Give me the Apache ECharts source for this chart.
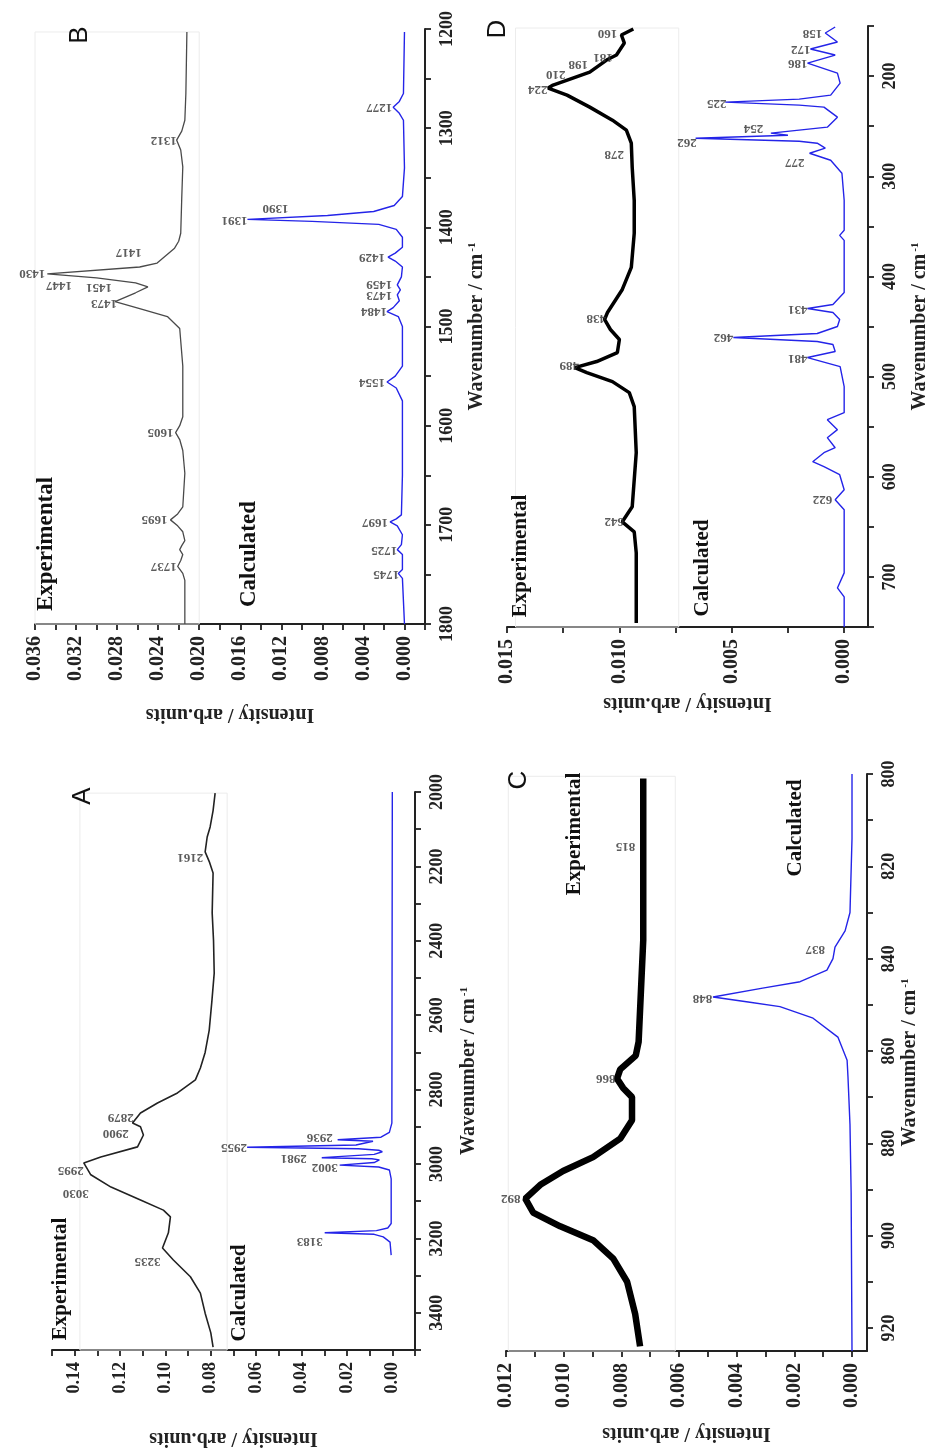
<!DOCTYPE html>
<html><head><meta charset="utf-8">
<script src="https://cdn.jsdelivr.net/npm/echarts@6/dist/echarts.min.js"></script>
<style>html,body{margin:0;padding:0;background:#fff}#c{width:931px;height:1452px}</style>
</head><body><div id="c"></div>
<script>
// ---------- DATA (wavenumber cm-1, intensity arb.units) ----------
// Panel B (1200-1800)
const B_EXP = [[1203,0.0212],[1265,0.0213],[1292,0.0214],[1303,0.0217],[1312,0.0222],[1322,0.0218],[1339,0.0216],[1370,0.0217],[1406,0.0218],[1414,0.0220],[1421,0.0224],[1436,0.0241],[1440,0.0258],[1447,0.0348],[1451,0.0300],[1456,0.0262],[1460,0.0250],[1466,0.0262],[1475,0.0282],[1482,0.0258],[1490,0.0231],[1502,0.0219],[1540,0.0216],[1591,0.0216],[1600,0.0219],[1607,0.0223],[1614,0.0219],[1625,0.0216],[1648,0.0214],[1682,0.0216],[1689,0.0221],[1695,0.0228],[1701,0.0221],[1707,0.0216],[1716,0.0214],[1721,0.0217],[1725,0.0219],[1730,0.0216],[1736,0.0218],[1742,0.0221],[1749,0.0216],[1756,0.0214],[1800,0.0214]];
const B_CALC = [[1203,0],[1265,0.0001],[1273,0.0005],[1279,0.0011],[1285,0.0005],[1292,0.0001],[1340,0.0000],[1369,0.0002],[1378,0.0010],[1384,0.0030],[1388,0.0075],[1392,0.0153],[1394,0.0090],[1397,0.0025],[1402,0.0008],[1410,0.0002],[1420,0.0002],[1426,0.0009],[1430,0.0016],[1434,0.0009],[1440,0.0002],[1450,0.0003],[1458,0.0007],[1463,0.0004],[1468,0.0007],[1474,0.0005],[1481,0.0011],[1485,0.0017],[1490,0.0006],[1500,0.0002],[1540,0.0002],[1550,0.0009],[1556,0.0017],[1562,0.0008],[1575,0.0002],[1650,0.0002],[1690,0.0003],[1694,0.0008],[1697,0.0014],[1701,0.0007],[1710,0.0002],[1720,0.0003],[1725,0.0007],[1730,0.0002],[1745,0.0002],[1749,0.0006],[1754,0.0002],[1800,0]];
const B_EXP_LABELS = [['1312',1312,0.0222],['1417',1425,0.0256],['1430',1446,0.0350],['1447',1459,0.0324],['1451',1461,0.0285],['1473',1477,0.0280],['1605',1607,0.0225],['1695',1694,0.0231],['1737',1742,0.0222]];
const B_CALC_LABELS = [['1277',1279,0.0012],['1390',1381,0.0113],['1391',1393,0.0153],['1429',1430,0.0019],['1459',1458,0.0012],['1473',1469,0.0012],['1484',1485,0.0017],['1554',1556,0.0019],['1697',1698,0.0016],['1725',1726,0.0007],['1745',1750,0.0005]];
const B_INT_MAJOR = [0,0.004,0.008,0.012,0.016,0.020,0.024,0.028,0.032,0.036];
const B_INT_MINOR = [-0.002,0.002,0.006,0.010,0.014,0.018,0.022,0.026,0.030,0.034];
const B_WN_MAJOR = [1200,1300,1400,1500,1600,1700,1800];
const B_WN_MINOR = [1250,1350,1450,1550,1650,1750];

// Panel A (2000-3500)
const A_EXP = [[2003,0.0781],[2050,0.0790],[2094,0.0803],[2121,0.0816],[2161,0.0825],[2190,0.0805],[2218,0.0790],[2325,0.0794],[2400,0.0788],[2487,0.0785],[2560,0.0795],[2640,0.0807],[2700,0.0825],[2742,0.0846],[2774,0.0868],[2809,0.0947],[2836,0.1035],[2863,0.1110],[2890,0.1145],[2900,0.1110],[2922,0.1097],[2954,0.1123],[2981,0.1285],[2997,0.1360],[3029,0.1329],[3062,0.1240],[3097,0.1110],[3124,0.1009],[3142,0.0978],[3185,0.0987],[3226,0.1013],[3258,0.0965],[3303,0.0890],[3347,0.0846],[3401,0.0825],[3454,0.0800],[3492,0.0790]];
const A_CALC = [[2000,0],[2890,0.0002],[2915,0.0013],[2928,0.0050],[2935,0.0241],[2939,0.0085],[2943,0.0079],[2949,0.0160],[2955,0.0640],[2959,0.0150],[2963,0.0060],[2967,0.0044],[2974,0.0080],[2983,0.0311],[2986,0.0090],[2989,0.0057],[2996,0.0080],[3003,0.0232],[3008,0.0060],[3016,0.0013],[3040,0.0005],[3160,0.0005],[3172,0.0020],[3179,0.0070],[3185,0.0298],[3189,0.0080],[3196,0.0040],[3210,0.0010],[3245,0.0005]];
const A_EXP_LABELS = [['2161',2175,0.0833],['2879',2874,0.114],['2900',2917,0.1162],['2995',3016,0.136],['3030',3078,0.1338],['3235',3263,0.1022]];
const A_CALC_LABELS = [['2936',2928,0.0263],['2955',2955,0.064],['2981',2984,0.0377],['3002',3008,0.0241],['3183',3207,0.0307]];
const A_INT_MAJOR = [0,0.02,0.04,0.06,0.08,0.10,0.12,0.14];
const A_INT_MINOR = [-0.01,0.01,0.03,0.05,0.07,0.09,0.11,0.13,0.15];
const A_WN_MAJOR = [2000,2200,2400,2600,2800,3000,3200,3400];
const A_WN_MINOR = [2100,2300,2500,2700,2900,3100,3300,3500];

// Panel D (150-750)
const D_EXP = [[153,0.00938],[159,0.00991],[167,0.00978],[179,0.01013],[184,0.01057],[196,0.01132],[202,0.01207],[209,0.01295],[212,0.01317],[219,0.01233],[231,0.01132],[244,0.01031],[254,0.00969],[267,0.00947],[291,0.00943],[324,0.00934],[357,0.00934],[391,0.00947],[413,0.00987],[436,0.01053],[443,0.01066],[453,0.01040],[463,0.01000],[476,0.01009],[485,0.01101],[491,0.01198],[496,0.01145],[505,0.01031],[516,0.00956],[530,0.00934],[576,0.00925],[630,0.00943],[645,0.00987],[655,0.00934],[676,0.00925],[746,0.00925]];
const D_CALC = [[151,0.0004],[157,0.00084],[166,0.0003],[173,0.0015],[179,0.0004],[187,0.00163],[197,0.0003],[207,0.00018],[219,0.0006],[223,0.0020],[226,0.00529],[229,0.0020],[231,0.0009],[241,0.0003],[251,0.00075],[257,0.00326],[259,0.0025],[262,0.00661],[265,0.0020],[267,0.0012],[272,0.00084],[277,0.00154],[284,0.0006],[297,0.0001],[324,0],[354,0],[359,0.0002],[364,0],[416,0],[428,0.0005],[432,0.00163],[436,0.0005],[443,0.0002],[450,0.0003],[457,0.0012],[461,0.00493],[465,0.0012],[468,0.0005],[475,0.0004],[481,0.00163],[490,0.00018],[510,0],[536,0],[543,0.00075],[553,0.0003],[561,0.00075],[571,0.0004],[576,0.0009],[585,0.0014],[590,0.0009],[598,0.0002],[613,0],[623,0.0004],[633,0],[696,0],[711,0.0003],[720,0],[750,0]];
const D_EXP_LABELS = [['160',157,0.0101],['181',181,0.0103],['198',188,0.0114],['210',198,0.0124],['224',213,0.0132],['278',278,0.0098],['438',442,0.0106],['489',489,0.0118],['642',645,0.0098]];
const D_CALC_LABELS = [['158',157,0.00097],['172',173,0.0015],['186',187,0.00163],['225',227,0.00524],['254',252,0.0036],['262',266,0.00656],['277',286,0.00176],['431',433,0.00163],['462',461,0.00493],['481',482,0.00163],['622',623,0.00053]];
const D_INT_MAJOR = [0,0.005,0.010,0.015];
const D_INT_MINOR = [0.0025,0.0075,0.0125];
const D_WN_MAJOR = [200,300,400,500,600,700];
const D_WN_MINOR = [150,250,350,450,550,650,750];

// Panel C (800-925)
const C_EXP = [[801,0.00724],[814,0.00724],[836,0.00724],[858,0.00740],[861,0.00750],[864,0.00804],[866,0.00815],[868,0.00794],[870,0.00763],[875,0.00763],[879,0.00804],[883,0.00898],[886,0.01002],[889,0.01081],[892,0.01133],[895,0.01106],[898,0.01012],[901,0.00898],[905,0.00828],[910,0.00780],[917,0.00752],[924,0.00735]];
const C_CALC = [[800,0],[814,0],[830,0.00007],[834,0.00024],[837.5,0.00059],[840,0.00066],[842.5,0.00087],[845,0.0018],[846.4,0.0031],[848.3,0.00482],[849.4,0.0036],[850.4,0.0025],[852.9,0.00135],[857,0.00049],[862,0.00017],[865.6,0.00014],[876,0.00007],[890.7,0.00003],[925,0]];
const C_EXP_LABELS = [['815',815.6,0.00752],['866',866,0.0082],['892',892,0.0115]];
const C_CALC_LABELS = [['837',838,0.00094],['848',848.5,0.00485]];
const C_INT_MAJOR = [0,0.002,0.004,0.006,0.008,0.010,0.012];
const C_INT_MINOR = [0.001,0.003,0.005,0.007,0.009,0.011];
const C_WN_MAJOR = [800,820,840,860,880,900,920];
const C_WN_MINOR = [810,830,850,870,890,910];

// ---------- LAYOUT / STYLE ----------
const SERIF = "'Liberation Serif','Times New Roman',serif";
const SANS = "'Liberation Sans',Arial,sans-serif";
const AX = '#222';
const BLUE = '#2424e8';
const NONE = 'rgba(0,0,0,0)';

const panels = [
  {letter:'B', grid:{left:35,top:29,width:390,height:595}, xMin:-0.002, xMax:0.036, yMin:1200, yMax:1800,
   xMajor:B_INT_MAJOR, xMinor:B_INT_MINOR, yMajor:B_WN_MAJOR, yMinor:B_WN_MINOR, dec:3,
   exp:B_EXP, calc:B_CALC, expLabels:B_EXP_LABELS, calcLabels:B_CALC_LABELS,
   expStyle:{color:'#4a4a4a', width:1.3}, frame:[[0.036,1203],[0.020,1800]],
   xNameGap:80, yNameGap:42, xFont:20, yFont:18,
   letterPos:[80,35], expPos:[46,544], calcPos:[249,554], textFont:23},
  {letter:'A', grid:{left:52,top:792,width:363,height:558}, xMin:-0.01, xMax:0.15, yMin:2000, yMax:3500,
   xMajor:A_INT_MAJOR, xMinor:A_INT_MINOR, yMajor:A_WN_MAJOR, yMinor:A_WN_MINOR, dec:2,
   exp:A_EXP, calc:A_CALC, expLabels:A_EXP_LABELS, calcLabels:A_CALC_LABELS,
   expStyle:{color:'#222', width:1.6}, frame:[[0.1377,2003],[0.0728,3500]],
   xNameGap:78, yNameGap:44, xFont:18, yFont:18,
   letterPos:[83,796], expPos:[61,1279], calcPos:[240,1293], textFont:21},
  {letter:'D', grid:{left:507,top:26,width:364,height:601}, xMin:-0.00106, xMax:0.015, yMin:150, yMax:750,
   xMajor:D_INT_MAJOR, xMinor:D_INT_MINOR, yMajor:D_WN_MAJOR, yMinor:D_WN_MINOR, dec:3,
   exp:D_EXP, calc:D_CALC, expLabels:D_EXP_LABELS, calcLabels:D_CALC_LABELS,
   expStyle:{color:'#000', width:3.5}, frame:[[0.01462,152],[0.00736,750]],
   xNameGap:66, yNameGap:42, xFont:20, yFont:18,
   letterPos:[498,29], expPos:[521,556], calcPos:[703,568], textFont:21},
  {letter:'C', grid:{left:506,top:774,width:361,height:577}, xMin:-0.00052, xMax:0.012, yMin:800, yMax:925,
   xMajor:C_INT_MAJOR, xMinor:C_INT_MINOR, yMajor:C_WN_MAJOR, yMinor:C_WN_MINOR, dec:3,
   exp:C_EXP, calc:C_CALC, expLabels:C_EXP_LABELS, calcLabels:C_CALC_LABELS,
   expStyle:{color:'#000', width:6.5}, frame:[[0.01192,800.5],[0.00613,925]],
   xNameGap:72, yNameGap:33, xFont:20, yFont:18,
   letterPos:[519,780], expPos:[575,834], calcPos:[796,828], textFont:21}
];

const grids = [], xAxes = [], yAxes = [], series = [], graphics = [];
const toXY = arr => arr.map(d => [d[1], d[0]]);
const allTicks = (a, b) => a.concat(b).sort((m, n) => m - n);
const labelSeries = (arr, xi, yi) => ({
  type:'scatter', xAxisIndex:xi, yAxisIndex:yi, silent:true, z:6,
  symbolSize:1, itemStyle:{color:NONE},
  data: arr.map(d => [d[2], d[1], d[0]]),
  label:{show:true, position:'inside', align:'left', verticalAlign:'middle', rotate:180,
    formatter:p => p.value[2], fontFamily:SERIF, fontWeight:'bold', fontSize:13, color:'#333'}
});

panels.forEach((p, i) => {
  grids.push(Object.assign({containLabel:false}, p.grid));
  xAxes.push({gridIndex:i, type:'value', min:p.xMin, max:p.xMax, inverse:true, position:'bottom', splitLine:{show:false},
    axisLine:{show:true, onZero:false, lineStyle:{color:AX, width:2}},
    axisTick:{show:true, customValues:allTicks(p.xMajor, p.xMinor), length:6, lineStyle:{color:AX, width:1.8}},
    axisLabel:{show:true, customValues:p.xMajor, rotate:90, margin:12, formatter:v => v.toFixed(p.dec),
      fontSize:p.xFont, fontWeight:'bold', fontFamily:SERIF, color:AX},
    name:'Intensity / arb.units', nameLocation:'middle', nameRotate:180, nameGap:p.xNameGap,
    nameTextStyle:{fontSize:20, fontWeight:'bold', fontFamily:SERIF, color:AX}
  });
  yAxes.push({gridIndex:i, type:'value', min:p.yMin, max:p.yMax, inverse:true, position:'right', splitLine:{show:false},
    axisLine:{show:true, onZero:false, lineStyle:{color:AX, width:2}},
    axisTick:{show:true, customValues:allTicks(p.yMajor, p.yMinor), length:6, lineStyle:{color:AX, width:1.8}},
    axisLabel:{show:true, customValues:p.yMajor, rotate:90, margin:13, formatter:v => String(v),
      fontSize:p.yFont, fontWeight:'bold', fontFamily:SERIF, color:AX},
    name:'Wavenumber / cm{sup|-1}', nameLocation:'middle', nameRotate:90, nameGap:p.yNameGap,
    nameTextStyle:{fontSize:20, fontWeight:'bold', fontFamily:SERIF, color:AX,
      rich:{sup:{fontSize:11, fontWeight:'bold', fontFamily:SERIF, color:AX, verticalAlign:'top', padding:[0,0,8,2]}}}
  });

  series.push({type:'line', xAxisIndex:i, yAxisIndex:i, data:toXY(p.exp), symbol:'none', smooth:false,
    lineStyle:{color:p.expStyle.color, width:p.expStyle.width}, z:3,
    markArea:{silent:true, itemStyle:{color:NONE, borderColor:'#ececec', borderWidth:1},
      data:[[{coord:p.frame[0]},{coord:p.frame[1]}]]}});
  series.push({type:'line', xAxisIndex:i, yAxisIndex:i, data:toXY(p.calc), symbol:'none', smooth:false,
    lineStyle:{color:BLUE, width:1.4}, z:3});
  series.push(labelSeries(p.expLabels, i, i));
  series.push(labelSeries(p.calcLabels, i, i));

  const txt = (s, pos, size, fam, weight) => ({type:'text', x:pos[0], y:pos[1], rotation:Math.PI/2, z:10,
    style:{text:s, fontSize:size, fontFamily:fam, fontWeight:weight, fill:'#111',
      align:'center', verticalAlign:'middle', textAlign:'center', textVerticalAlign:'middle'}});
  graphics.push(txt(p.letter, p.letterPos, 26, SANS, 'normal'));
  graphics.push(txt('Experimental', p.expPos, p.textFont, SERIF, 'bold'));
  graphics.push(txt('Calculated', p.calcPos, p.textFont, SERIF, 'bold'));
});

const chart = echarts.init(document.getElementById('c'), null, {renderer:'canvas'});
chart.setOption({
  backgroundColor:'#fff', animation:false,
  grid:grids, xAxis:xAxes, yAxis:yAxes, series:series, graphic:graphics
});
</script></body></html>
